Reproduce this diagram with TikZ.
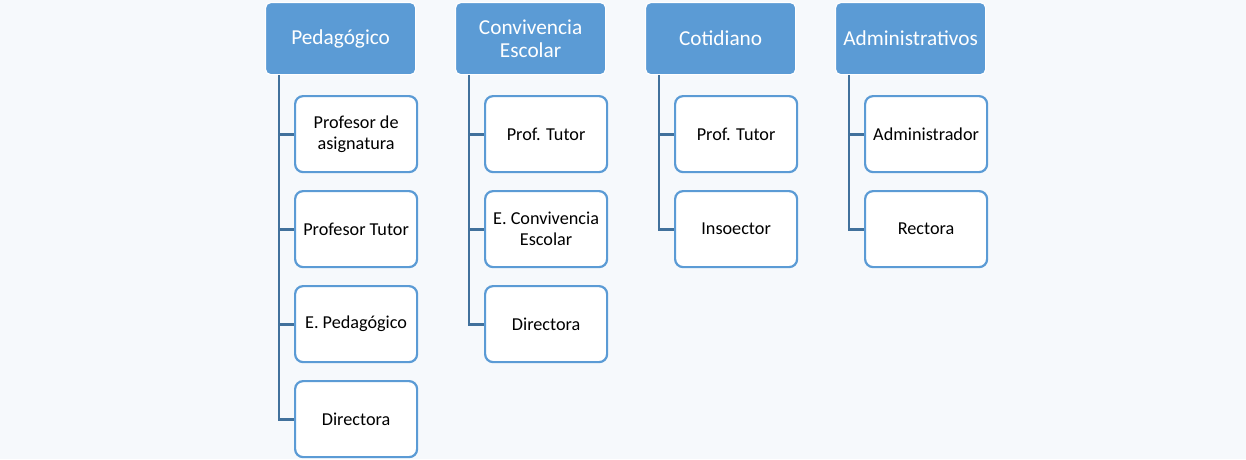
\documentclass[tikz,border=0pt]{standalone}
\usepackage{fontspec}
\setmainfont{Carlito}
\definecolor{bg}{RGB}{246,249,252}
\definecolor{hdr}{RGB}{91,155,213}
\definecolor{cbd}{RGB}{91,155,213}
\definecolor{conn}{RGB}{65,113,156}
\tikzset{
  hbox/.style={draw=white, line width=1.2pt, fill=hdr, rounded corners=5pt, minimum width=150pt, minimum height=72pt, inner sep=0pt, align=center, text=white, font=\fontsize{21.3}{23.5}\selectfont, anchor=north west},
  cbox/.style={draw=cbd, line width=2.2pt, fill=white, rounded corners=8pt, minimum width=122pt, minimum height=76pt, inner sep=0pt, align=center, text=black, font=\fontsize{18.2}{21}\selectfont, anchor=north west},
  cline/.style={draw=conn, line width=2.8pt}
}
\begin{document}
\begin{tikzpicture}[x=1pt,y=-1pt]
\fill[bg] (0,0) rectangle (1246,459);
\useasboundingbox (0,0) rectangle (1246,459);
% headers
\node[hbox] (h1) at (265,2) {Pedagógico};
\node[hbox] (h2) at (455,2) {Convivencia\\Escolar};
\node[hbox] (h3) at (645,2) {Cotidiano};
\node[hbox] (h4) at (835,2) {Administrativos};
% children col 1
\node[cbox] (c11) at (294,95) {Profesor de\\asignatura};
\node[cbox] (c12) at (294,190) {Profesor Tutor};
\node[cbox] (c13) at (294,285) {E. Pedagógico};
\node[cbox] (c14) at (294,380) {Directora};
% col 2
\node[cbox] (c21) at (484,95) {Prof. Tutor};
\node[cbox] (c22) at (484,190) {E. Convivencia\\Escolar};
\node[cbox] (c23) at (484,285) {Directora};
% col 3
\node[cbox] (c31) at (674,95) {Prof. Tutor};
\node[cbox] (c32) at (674,190) {Insoector};
% col 4
\node[cbox] (c41) at (864,95) {Administrador};
\node[cbox] (c42) at (864,190) {Rectora};
% connectors
\coordinate (v1) at ([xshift=14pt]h1.south west);
\coordinate (v2) at ([xshift=14pt]h2.south west);
\coordinate (v3) at ([xshift=14pt]h3.south west);
\coordinate (v4) at ([xshift=14pt]h4.south west);
\foreach \c in {c11,c12,c13,c14} \draw[cline] (v1) |- (\c.west);
\foreach \c in {c21,c22,c23} \draw[cline] (v2) |- (\c.west);
\foreach \c in {c31,c32} \draw[cline] (v3) |- (\c.west);
\foreach \c in {c41,c42} \draw[cline] (v4) |- (\c.west);
\end{tikzpicture}
\end{document}
